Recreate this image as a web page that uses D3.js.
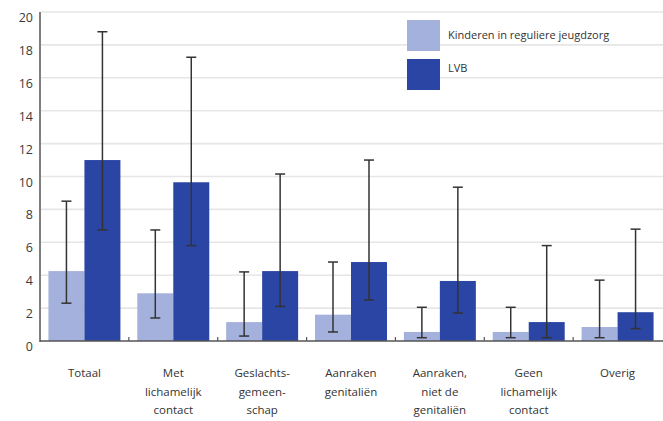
<!DOCTYPE html>
<html>
<head>
<meta charset="utf-8">
<script src="https://cdnjs.cloudflare.com/ajax/libs/d3/7.8.5/d3.min.js"></script>
<style>
body{margin:0;background:#fff}
svg text{font-family:"Open Sans","Liberation Sans",sans-serif}
</style>
</head>
<body>
<div id="chart"></div>
<script>
var w = 663
var h = 421

var categories = ["Totaal","Met lichamelijk contact","Geslachts-gemeenschap","Aanraken genitaliën","Aanraken, niet de genitaliën","Geen lichamelijk contact","Overig"]
var catLines = [["Totaal"],["Met","lichamelijk","contact"],["Geslachts-","gemeen-","schap"],["Aanraken","genitaliën"],["Aanraken,","niet de","genitaliën"],["Geen","lichamelijk","contact"],["Overig"]]
var seriesNames = ["Kinderen in reguliere jeugdzorg","LVB"]
var regulier = [4.25,2.9,1.15,1.6,0.55,0.55,0.85]
var regulierLow = [2.3,1.4,0.3,0.55,0.2,0.2,0.2]
var regulierHigh = [8.5,6.75,4.2,4.8,2.05,2.05,3.7]
var lvb = [11.0,9.65,4.25,4.8,3.65,1.15,1.75]
var lvbLow = [6.75,5.8,2.1,2.5,1.7,0.2,0.75]
var lvbHigh = [18.8,17.25,10.15,11.0,9.35,5.8,6.8]
var yTicks = [0,2,4,6,8,10,12,14,16,18,20]
var colors = ["#a5b1dd","#2a45a3"]

var svg = d3.select("#chart").append("svg").attr("width",w).attr("height",h)

var yScale = d3.scaleLinear().domain([0,20]).range([341,12])
var x0 = d3.scaleBand().domain(categories).range([40,662]).paddingInner(0.19).paddingOuter(0.095)
var x1 = d3.scaleBand().domain(seriesNames).range([0,x0.bandwidth()])
var gap = (x0.step()-x0.bandwidth())/2

// gridlines
svg.selectAll(".grid")
    .data(yTicks.slice(1))
    .enter()
    .append("line")
    .attr("x1",41).attr("x2",663)
    .attr("y1",function(d){ return yScale(d) })
    .attr("y2",function(d){ return yScale(d) })
    .attr("stroke","#e6e6e6")
    .attr("stroke-width",1.6)

// y labels
svg.selectAll(".ylab")
    .data(yTicks)
    .enter()
    .append("text")
    .attr("x",33)
    .attr("y",function(d){ return yScale(d)+10 })
    .attr("text-anchor","end")
    .style("font-size","12.5px")
    .style("fill","#3a3a3a")
    .text(function(d){ return d })

var rows = categories.map(function(c,i){
    return [
        {cat:c,s:seriesNames[0],v:regulier[i],lo:regulierLow[i],hi:regulierHigh[i]},
        {cat:c,s:seriesNames[1],v:lvb[i],lo:lvbLow[i],hi:lvbHigh[i]}
    ]
})
var flat = [].concat.apply([],rows)

svg.selectAll(".bar")
    .data(flat)
    .enter()
    .append("rect")
    .attr("x",function(d){ return x0(d.cat)+x1(d.s) })
    .attr("width",x1.bandwidth())
    .attr("y",function(d){ return yScale(d.v) })
    .attr("height",function(d){ return yScale(0)-yScale(d.v) })
    .attr("fill",function(d){ return d.s==seriesNames[0] ? colors[0] : colors[1] })

// error bars
var eb = svg.selectAll(".err")
    .data(flat)
    .enter()
    .append("g")
    .attr("stroke","#333")
    .attr("stroke-width",1.5)
eb.append("line")
    .attr("x1",function(d){ return x0(d.cat)+x1(d.s)+x1.bandwidth()/2 })
    .attr("x2",function(d){ return x0(d.cat)+x1(d.s)+x1.bandwidth()/2 })
    .attr("y1",function(d){ return yScale(d.lo) })
    .attr("y2",function(d){ return yScale(d.hi) })
;["lo","hi"].forEach(function(k){
    eb.append("line")
        .attr("x1",function(d){ return x0(d.cat)+x1(d.s)+x1.bandwidth()/2-5 })
        .attr("x2",function(d){ return x0(d.cat)+x1(d.s)+x1.bandwidth()/2+5 })
        .attr("y1",function(d){ return yScale(d[k]) })
        .attr("y2",function(d){ return yScale(d[k]) })
})

// axes
svg.append("line").attr("x1",40).attr("x2",40).attr("y1",12).attr("y2",342)
    .attr("stroke","#555").attr("stroke-width",1.5)
svg.append("line").attr("x1",40).attr("x2",663).attr("y1",341).attr("y2",341)
    .attr("stroke","#555").attr("stroke-width",1.5)
svg.selectAll(".tk")
    .data(categories.slice(1))
    .enter()
    .append("line")
    .attr("x1",function(d){ return x0(d)-gap })
    .attr("x2",function(d){ return x0(d)-gap })
    .attr("y1",341).attr("y2",337)
    .attr("stroke","#555").attr("stroke-width",1.2)

// category labels
var cl = svg.selectAll(".clab")
    .data(categories)
    .enter()
    .append("text")
    .attr("text-anchor","middle")
    .style("font-size","11.5px")
    .style("fill","#333")
cl.each(function(d,i){
    var t = d3.select(this)
    catLines[i].forEach(function(line,j){
        t.append("tspan")
            .attr("x",x0(d)+x0.bandwidth()/2)
            .attr("y",377+j*18.5)
            .text(line)
    })
})

// legend
var lg = svg.selectAll(".leg")
    .data(seriesNames)
    .enter()
    .append("g")
    .attr("transform",function(d,i){ return "translate(407,"+(20+i*39)+")" })
lg.append("rect").attr("width",33).attr("height",31)
    .attr("fill",function(d,i){ return colors[i] })
lg.append("text").attr("x",41).attr("y",function(d,i){ return i==0 ? 19 : 13 })
    .style("font-size","11px").style("fill","#333")
    .text(function(d){ return d })
</script>
</body>
</html>
